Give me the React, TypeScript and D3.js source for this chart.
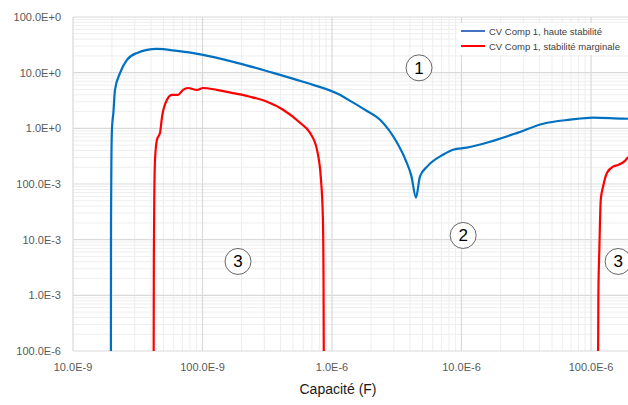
import { useEffect, useRef } from 'react'
import * as d3 from 'd3'

// capacitance (F) / value pairs
const blueX = [1.96e-8, 1.965e-8, 1.98e-8, 2.0e-8, 2.05e-8, 2.11e-8, 2.31e-8, 2.61e-8, 3.12e-8, 4.45e-8, 6.35e-8, 1.01e-7, 1.85e-7, 3.32e-7, 5.97e-7, 1.15e-6, 1.38e-6, 1.8e-6, 2.35e-6, 3.18e-6, 3.7e-6, 4.1e-6, 4.45e-6, 4.78e-6, 5.42e-6, 7.2e-6, 8.6e-6, 1.1e-5, 1.66e-5, 2.7e-5, 4.27e-5, 6.9e-5, 1.04e-4, 1.77e-4, 2.3e-4]
const blueY = [1e-5, 0.02, 0.3, 1.0, 1.9, 4.9, 9.9, 17, 22.6, 26.7, 24.6, 20.9, 15, 10.3, 6.85, 4.0, 3.12, 2.15, 1.43, 0.55, 0.27, 0.14, 0.057, 0.137, 0.205, 0.336, 0.413, 0.45, 0.575, 0.83, 1.21, 1.43, 1.56, 1.49, 1.48]

const redAX = [4.19e-8, 4.21e-8, 4.25e-8, 4.3e-8, 4.45e-8, 4.7e-8, 4.87e-8, 5.32e-8, 5.81e-8, 6.47e-8, 7.07e-8, 7.73e-8, 9.07e-8, 1.01e-7, 1.29e-7, 1.72e-7, 2.33e-7, 3.15e-7, 4.19e-7, 5.66e-7, 6.76e-7, 7.66e-7, 8.22e-7, 8.51e-7, 8.6e-7, 8.67e-7]
const redAY = [1e-5, 0.005, 0.08, 0.274, 0.625, 0.83, 1.61, 3.26, 4.0, 4.0, 4.9, 5.3, 4.9, 5.3, 4.9, 4.3, 3.7, 3.0, 2.16, 1.26, 0.83, 0.41, 0.12, 0.023, 0.002, 1e-5]

const redBX = [1.13e-4, 1.14e-4, 1.16e-4, 1.19e-4, 1.24e-4, 1.33e-4, 1.48e-4, 1.62e-4, 1.83e-4, 1.93e-4, 2.3e-4]
const redBY = [1e-5, 0.001, 0.0067, 0.053, 0.09, 0.16, 0.205, 0.22, 0.26, 0.3, 0.34]

const xTicks = [1e-8, 1e-7, 1e-6, 1e-5, 1e-4]
const xTickLabels = ['10.0E-9', '100.0E-9', '1.0E-6', '10.0E-6', '100.0E-6']
const yTicks = [100, 10, 1, 0.1, 0.01, 0.001, 1e-4]
const yTickLabels = ['100.0E+0', '10.0E+0', '1.0E+0', '100.0E-3', '10.0E-3', '1.0E-3', '100.0E-6']

const seriesNames = ['CV Comp 1, haute stabilité', 'CV Comp 1, stabilité marginale']

// region markers: [capacitance, value, label]
const markers: [number, number, string][] = [
  [4.7e-6, 12.2, '1'],
  [1.03e-5, 0.0119, '2'],
  [1.88e-7, 0.00406, '3'],
  [1.62e-4, 0.00406, '3'],
]

const W = 628
const H = 405
const font = 'Liberation Sans, Arial, sans-serif'

export default function App() {
  const svgRef = useRef<SVGSVGElement | null>(null)

  useEffect(() => {
    if (!svgRef.current) return
    const svg = d3.select(svgRef.current)
    svg.selectAll('*').remove()

    const left = 73
    const top = 17
    const bottom = 351
    const decade = 129.5

    const x = d3.scaleLog().domain([1e-8, 1e-3]).range([left, left + 5 * decade])
    const y = d3.scaleLog().domain([1e-4, 100]).range([bottom, top])
    const right = W + 2

    svg.append('clipPath').attr('id', 'plot')
      .append('rect').attr('x', left).attr('y', top).attr('width', right - left).attr('height', bottom - top)

    const grid = svg.append('g')
    // minor grid
    for (let e = -8; e < -3; e++) {
      for (let m = 2; m <= 9; m++) {
        const v = m * Math.pow(10, e)
        if (x(v) > right) continue
        grid.append('line').attr('x1', x(v)).attr('x2', x(v)).attr('y1', top).attr('y2', bottom)
          .attr('stroke', '#eeeeee').attr('stroke-width', 1)
      }
    }
    for (let e = -4; e < 2; e++) {
      for (let m = 2; m <= 9; m++) {
        const v = m * Math.pow(10, e)
        grid.append('line').attr('x1', left).attr('x2', right).attr('y1', y(v)).attr('y2', y(v))
          .attr('stroke', '#eeeeee').attr('stroke-width', 1)
      }
    }
    // major grid
    xTicks.forEach((v) => {
      grid.append('line').attr('x1', x(v)).attr('x2', x(v)).attr('y1', top).attr('y2', bottom)
        .attr('stroke', '#d9d9d9').attr('stroke-width', 1.2)
    })
    yTicks.forEach((v) => {
      grid.append('line').attr('x1', left).attr('x2', right).attr('y1', y(v)).attr('y2', y(v))
        .attr('stroke', '#d9d9d9').attr('stroke-width', 1.2)
    })

    // tick labels
    xTicks.forEach((v, i) => {
      svg.append('text').attr('x', x(v)).attr('y', bottom + 20).attr('text-anchor', 'middle')
        .attr('font-family', font).attr('font-size', 11).attr('fill', '#595959').text(xTickLabels[i])
    })
    yTicks.forEach((v, i) => {
      svg.append('text').attr('x', left - 12).attr('y', y(v) + 4).attr('text-anchor', 'end')
        .attr('font-family', font).attr('font-size', 11).attr('fill', '#595959').text(yTickLabels[i])
    })
    svg.append('text').attr('x', 338).attr('y', 394).attr('text-anchor', 'middle')
      .attr('font-family', font).attr('font-size', 14).attr('fill', '#1a1a1a').text('Capacité (F)')

    const line = d3.line<[number, number]>().x((d) => x(d[0])).y((d) => y(d[1])).curve(d3.curveMonotoneX)
    const plot = svg.append('g').attr('clip-path', 'url(#plot)')
    const curves: [number[], number[], string][] = [
      [blueX, blueY, '#0070c0'],
      [redAX, redAY, '#ff0000'],
      [redBX, redBY, '#ff0000'],
    ]
    curves.forEach(([xs, ys, c]) => {
      plot.append('path')
        .datum(xs.map((v, i) => [v, ys[i]] as [number, number]))
        .attr('fill', 'none').attr('stroke', c).attr('stroke-width', 2.2)
        .attr('stroke-linejoin', 'round').attr('d', line)
    })

    // markers
    markers.forEach(([mx, my, label]) => {
      const g = svg.append('g').attr('transform', `translate(${x(mx)},${y(my)})`)
      g.append('circle').attr('r', 13).attr('fill', 'white').attr('stroke', '#404040').attr('stroke-width', 0.8)
      g.append('text').attr('y', 6).attr('text-anchor', 'middle').attr('font-family', font)
        .attr('font-size', 17).attr('fill', '#000').text(label)
    })

    // legend
    const lg = svg.append('g')
    lg.append('rect').attr('x', 457).attr('y', 23).attr('width', 175).attr('height', 32).attr('fill', 'white')
    const legendColors = ['#4472c4', '#ff0000']
    seriesNames.forEach((name, i) => {
      const ly = 31 + i * 15
      lg.append('line').attr('x1', 461).attr('x2', 485).attr('y1', ly).attr('y2', ly)
        .attr('stroke', legendColors[i]).attr('stroke-width', 2)
      lg.append('text').attr('x', 489).attr('y', ly + 3.5).attr('font-family', font)
        .attr('font-size', 9.5).attr('fill', '#404040').text(name)
    })
  }, [])

  return (
    <svg ref={svgRef} width={W} height={H} style={{ position: 'absolute', left: 0, top: 0, background: 'white' }} />
  )
}
